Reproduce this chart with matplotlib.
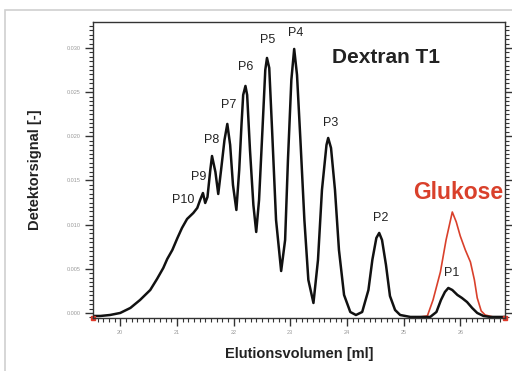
import matplotlib.pyplot as plt
from matplotlib.patches import Rectangle
from matplotlib.ticker import MultipleLocator

vol = [19.54, 19.65, 19.82, 20.00, 20.18, 20.35, 20.53, 20.65, 20.76, 20.83,
       20.92, 21.01, 21.09, 21.18, 21.29, 21.36, 21.41, 21.46, 21.50, 21.54,
       21.59, 21.62, 21.68, 21.73, 21.78, 21.84, 21.89, 21.94, 21.99, 22.05,
       22.10, 22.14, 22.17, 22.21, 22.24, 22.29, 22.35, 22.40, 22.45, 22.51,
       22.56, 22.59, 22.63, 22.68, 22.75, 22.84, 22.91, 22.96, 23.02, 23.07,
       23.12, 23.18, 23.25, 23.32, 23.41, 23.49, 23.56, 23.64, 23.67, 23.72,
       23.79, 23.86, 23.95, 24.06, 24.16, 24.27, 24.38, 24.45, 24.52, 24.57,
       24.62, 24.69, 24.76, 24.85, 24.94, 25.12, 25.29, 25.47, 25.58, 25.66,
       25.73, 25.79, 25.86, 25.95, 26.03, 26.12, 26.21, 26.30, 26.41, 26.53,
       26.71, 26.79]
signal = [-0.00034, -0.00034, -0.00023, 0.0, 0.00057, 0.00147, 0.00260, 0.00385, 0.00509, 0.00611,
          0.00713, 0.00849, 0.00962, 0.01064, 0.01132, 0.01189, 0.01279, 0.01358, 0.01245, 0.01313,
          0.01619, 0.01777, 0.01596, 0.01347, 0.01619, 0.01958, 0.02140, 0.01902, 0.01449, 0.01166,
          0.01619, 0.02128, 0.02468, 0.02570, 0.02468, 0.01845, 0.01223, 0.00917, 0.01279, 0.02072,
          0.02751, 0.02887, 0.02774, 0.02072, 0.01053, 0.00475, 0.00826, 0.01732, 0.02638, 0.02989,
          0.02694, 0.01958, 0.01053, 0.00374, 0.00113, 0.00600, 0.01392, 0.01902, 0.01981, 0.01868,
          0.01392, 0.00713, 0.00204, 0.00011, -0.00023, 0.00011, 0.00260, 0.00604, 0.00849, 0.00906,
          0.00826, 0.00543, 0.00192, 0.00034, -0.00023, -0.00045, -0.00045, -0.00045, 0.00011, 0.00147,
          0.00238, 0.00283, 0.00260, 0.00204, 0.00170, 0.00124, 0.00057, 0.0, -0.00034, -0.00045,
          -0.00045, -0.00045]

# glucose reference run
glc_vol = [25.29, 25.42, 25.52, 25.65, 25.75, 25.86, 25.93, 26.00, 26.09, 26.18,
           26.25, 26.30, 26.37, 26.44, 26.58, 26.79]
glc_signal = [-0.00045, -0.00034, 0.00147, 0.00464, 0.00826, 0.01143, 0.01030, 0.00872, 0.00713, 0.00577,
              0.00374, 0.00170, 0.00023, -0.00023, -0.00045, -0.00045]

peak_names = ["P10", "P9", "P8", "P7", "P6", "P5", "P4", "P3", "P2", "P1"]
peak_x = [21.11, 21.38, 21.62, 21.91, 22.21, 22.61, 23.10, 23.72, 24.60, 25.85]
peak_y = [0.0128, 0.0154, 0.0196, 0.0235, 0.0278, 0.0309, 0.0317, 0.0215, 0.01075, 0.0045]

plt.rcParams['font.family'] = ['Liberation Sans', 'DejaVu Sans']

fig = plt.figure(figsize=(5.12, 3.71), dpi=100)
fig.patches.append(Rectangle((5/512, -0.1), 1.2, 1 - 10/371 + 0.1, transform=fig.transFigure,
                             fill=False, edgecolor='#d0d0d0', lw=1.2))
ax = fig.add_axes([93/512, 1 - 318/371, 412/512, 296/371])

ax.plot(glc_vol, glc_signal, color='#d9402b', lw=1.2)
ax.plot(vol, signal, color='#111111', lw=1.8)

for name, px, py in zip(peak_names, peak_x, peak_y):
    ax.text(px, py, name, fontsize=9, ha='center', va='center', color='#222222')
ax.text(24.69, 0.0289, "Dextran T1", fontsize=15, fontweight='bold', ha='center', va='center', color='#222222')
ax.text(25.96, 0.0136, "Glukose", fontsize=16.5, fontweight='bold', ha='center', va='center', color='#d9402b')

ax.set_xlim(19.52, 26.79)
ax.set_ylim(-0.00057, 0.03294)
ax.xaxis.set_major_locator(MultipleLocator(1))
ax.xaxis.set_minor_locator(MultipleLocator(0.1))
ax.yaxis.set_minor_locator(MultipleLocator(0.0005))
ax.set_yticks([0.0, 0.005, 0.01, 0.015, 0.02, 0.025, 0.03])
ax.set_yticklabels(["0.000", "0.005", "0.010", "0.015", "0.020", "0.025", "0.030"])
ax.tick_params(which='major', length=6, width=1, color='#333333', labelsize=4, labelcolor='#999999', pad=3)
ax.tick_params(which='minor', length=3, width=0.8, color='#333333')
ax.tick_params(axis='y', which='both', right=True)
for s in ax.spines.values():
    s.set_color('#333333')
    s.set_linewidth(1)

# small red marks at the bottom corners
x0, x1 = ax.get_xlim()
y0 = ax.get_ylim()[0]
ax.plot([x0, x1], [y0, y0], 's', color='#e03a2a', ms=2.5, clip_on=False)

ax.set_xlabel("Elutionsvolumen [ml]", fontsize=10.5, fontweight='bold', color='#222222', labelpad=8)
ax.set_ylabel("Detektorsignal [-]", fontsize=10.5, fontweight='bold', color='#222222', labelpad=18)

fig.savefig("out.png", dpi=100)
